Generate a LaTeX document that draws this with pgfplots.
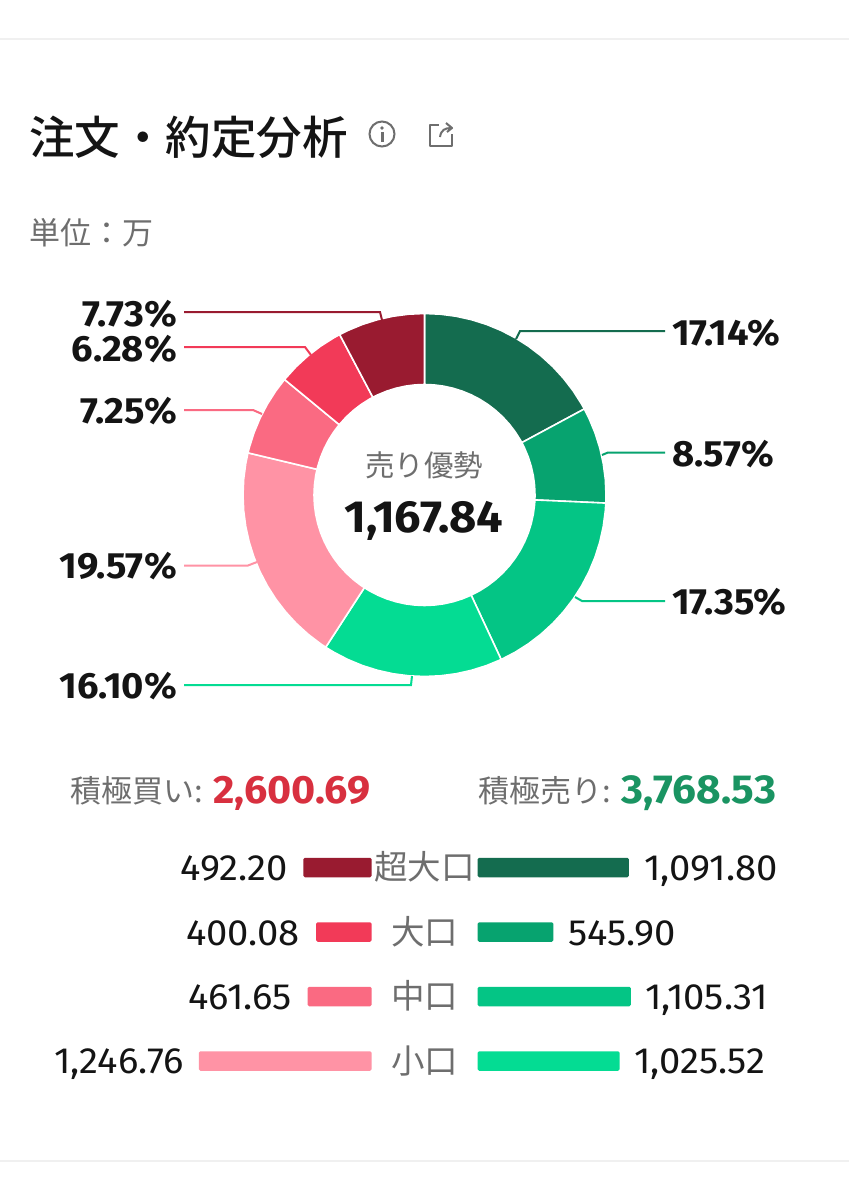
\documentclass[border=0pt]{standalone}
\usepackage{fontspec}
\usepackage{pgfplots}
\pgfplotsset{compat=1.18}
\usepgfplotslibrary{polar}
\setmainfont{Noto Sans CJK JP}[BoldFont={Noto Sans CJK JP Bold}]
\newfontfamily\med{Noto Sans CJK JP Medium}
\newfontfamily\num{Fira Sans}[Numbers={Lining,Proportional},FakeStretch=1.045]
\definecolor{g1}{HTML}{146C4F}
\definecolor{g2}{HTML}{07A36F}
\definecolor{g3}{HTML}{04C585}
\definecolor{g4}{HTML}{04DC93}
\definecolor{r1}{HTML}{991B30}
\definecolor{r2}{HTML}{F23A58}
\definecolor{r3}{HTML}{FA6A82}
\definecolor{r4}{HTML}{FF93A5}
\definecolor{tred}{HTML}{D8303F}
\definecolor{tgreen}{HTML}{1A9462}
\definecolor{ink}{HTML}{141414}
\definecolor{gry}{HTML}{6E6E6E}
\newcommand{\fs}[1]{\fontsize{#1}{#1}\selectfont}
\begin{document}
\begin{tikzpicture}[x=1pt,y=1pt]
\path[use as bounding box,fill=white] (0pt,0pt) rectangle (849pt,1200pt);
% donut
\begin{polaraxis}[at={(424.5pt,705pt)},anchor=center,scale only axis,width=362pt,height=362pt,
 hide axis,xmin=-270,xmax=90,ymin=0,ymax=181,clip=false]
\addplot[fill=g1,draw=white,line width=1.6pt] coordinates {(90,181.5)(85,181.5)(80,181.5)(75,181.5)(70,181.5)(65,181.5)(60,181.5)(55,181.5)(50,181.5)(45,181.5)(40,181.5)(35,181.5)(30,181.5)(28.296,181.5)(28.296,110.5)(30,110.5)(35,110.5)(40,110.5)(45,110.5)(50,110.5)(55,110.5)(60,110.5)(65,110.5)(70,110.5)(75,110.5)(80,110.5)(85,110.5)(90,110.5)} --cycle;
\addplot[fill=g2,draw=white,line width=1.6pt] coordinates {(28.296,181.5)(25,181.5)(20,181.5)(15,181.5)(10,181.5)(5,181.5)(0,181.5)(-2.556,181.5)(-2.556,110.5)(0,110.5)(5,110.5)(10,110.5)(15,110.5)(20,110.5)(25,110.5)(28.296,110.5)} --cycle;
\addplot[fill=g3,draw=white,line width=1.6pt] coordinates {(-2.556,181.5)(-5,181.5)(-10,181.5)(-15,181.5)(-20,181.5)(-25,181.5)(-30,181.5)(-35,181.5)(-40,181.5)(-45,181.5)(-50,181.5)(-55,181.5)(-60,181.5)(-65.016,181.5)(-65.016,110.5)(-60,110.5)(-55,110.5)(-50,110.5)(-45,110.5)(-40,110.5)(-35,110.5)(-30,110.5)(-25,110.5)(-20,110.5)(-15,110.5)(-10,110.5)(-5,110.5)(-2.556,110.5)} --cycle;
\addplot[fill=g4,draw=white,line width=1.6pt] coordinates {(-65.016,181.5)(-70,181.5)(-75,181.5)(-80,181.5)(-85,181.5)(-90,181.5)(-95,181.5)(-100,181.5)(-105,181.5)(-110,181.5)(-115,181.5)(-120,181.5)(-122.976,181.5)(-122.976,110.5)(-120,110.5)(-115,110.5)(-110,110.5)(-105,110.5)(-100,110.5)(-95,110.5)(-90,110.5)(-85,110.5)(-80,110.5)(-75,110.5)(-70,110.5)(-65.016,110.5)} --cycle;
\addplot[fill=r4,draw=white,line width=1.6pt] coordinates {(-122.976,181.5)(-125,181.5)(-130,181.5)(-135,181.5)(-140,181.5)(-145,181.5)(-150,181.5)(-155,181.5)(-160,181.5)(-165,181.5)(-170,181.5)(-175,181.5)(-180,181.5)(-185,181.5)(-190,181.5)(-193.428,181.5)(-193.428,110.5)(-190,110.5)(-185,110.5)(-180,110.5)(-175,110.5)(-170,110.5)(-165,110.5)(-160,110.5)(-155,110.5)(-150,110.5)(-145,110.5)(-140,110.5)(-135,110.5)(-130,110.5)(-125,110.5)(-122.976,110.5)} --cycle;
\addplot[fill=r3,draw=white,line width=1.6pt] coordinates {(-193.428,181.5)(-195,181.5)(-200,181.5)(-205,181.5)(-210,181.5)(-215,181.5)(-219.528,181.5)(-219.528,110.5)(-215,110.5)(-210,110.5)(-205,110.5)(-200,110.5)(-195,110.5)(-193.428,110.5)} --cycle;
\addplot[fill=r2,draw=white,line width=1.6pt] coordinates {(-219.528,181.5)(-225,181.5)(-230,181.5)(-235,181.5)(-240,181.5)(-242.136,181.5)(-242.136,110.5)(-240,110.5)(-235,110.5)(-230,110.5)(-225,110.5)(-219.528,110.5)} --cycle;
\addplot[fill=r1,draw=white,line width=1.6pt] coordinates {(-242.136,181.5)(-245,181.5)(-250,181.5)(-255,181.5)(-260,181.5)(-265,181.5)(-270,181.5)(-270,110.5)(-265,110.5)(-260,110.5)(-255,110.5)(-250,110.5)(-245,110.5)(-242.136,110.5)} --cycle;
\end{polaraxis}
% left bars
\begin{axis}[at={(371.5pt,139pt)},anchor=south east,scale only axis,width=173.1pt,height=193.5pt,
 hide axis,xmin=0,xmax=1250,x dir=reverse,ymin=0,ymax=3,y dir=reverse,clip=false,xbar,bar width=19.5pt,bar shift=0pt]
\addplot[fill=r1,draw=none,rounded corners=1.5pt] coordinates {(492.20,0)};
\addplot[fill=r2,draw=none,rounded corners=1.5pt] coordinates {(400.08,1)};
\addplot[fill=r3,draw=none,rounded corners=1.5pt] coordinates {(461.65,2)};
\addplot[fill=r4,draw=none,rounded corners=1.5pt] coordinates {(1246.76,3)};
\end{axis}
% right bars
\begin{axis}[at={(477.7pt,139pt)},anchor=south west,scale only axis,width=173.1pt,height=193.5pt,
 hide axis,xmin=0,xmax=1250,ymin=0,ymax=3,y dir=reverse,clip=false,xbar,bar width=19.5pt,bar shift=0pt]
\addplot[fill=g1,draw=none,rounded corners=1.5pt] coordinates {(1091.80,0)};
\addplot[fill=g2,draw=none,rounded corners=1.5pt] coordinates {(545.90,1)};
\addplot[fill=g3,draw=none,rounded corners=1.5pt] coordinates {(1105.31,2)};
\addplot[fill=g4,draw=none,rounded corners=1.5pt] coordinates {(1025.52,3)};
\end{axis}
% page layer in pixel coordinates
\begin{axis}[at={(0pt,0pt)},anchor=south west,scale only axis,width=849pt,height=1200pt,
 hide axis,xmin=0,xmax=849,ymin=0,ymax=1200,y dir=reverse,clip=false]
% rules
\addplot[color=black!6,line width=1.2pt] coordinates {(0,39)(849,39)};
\addplot[color=black!6,line width=1.2pt] coordinates {(0,1161)(849,1161)};
% leaders
\addplot[color=r1,line width=2pt] coordinates {(184,312)(380,312)(382,320)};
\addplot[color=r2,line width=2pt] coordinates {(184,347)(305,347)(311,355)};
\addplot[color=r3,line width=2pt] coordinates {(184,410)(253,410)(262,414)};
\addplot[color=r4,line width=2pt] coordinates {(184,565.5)(248,565.5)(257,562)};
\addplot[color=g4,line width=2pt] coordinates {(184,685)(411,685)(412,676)};
\addplot[color=g1,line width=2pt] coordinates {(665,331)(520,331)(516,339)};
\addplot[color=g2,line width=2pt] coordinates {(665,452.5)(608,452.5)(602,455)};
\addplot[color=g3,line width=2pt] coordinates {(665,601)(582,601)(575,597)};
% title
\node[anchor=base west,text=ink,inner sep=0pt] at (axis cs:29,154) {\fs{45.5}\med 注文・約定分析};
\node[anchor=base west,text=gry,inner sep=0pt] at (axis cs:29,244) {\fs{31}単位\char"FF1A 万};
% icons
\draw[gry,line width=2pt] (axis cs:382,134) circle[radius=12.5pt];
\fill[gry] (axis cs:380.5,132) rectangle (axis cs:383.5,142);
\fill[gry] (axis cs:382,128) circle[radius=1.9pt];
\draw[gry,line width=2pt,line join=round] (axis cs:452,134) -- (axis cs:452,146) -- (axis cs:430,146) -- (axis cs:430,124.5) -- (axis cs:439,124.5);
\draw[gry,line width=2pt,line join=round] (axis cs:440,137) .. controls (axis cs:441,130) and (axis cs:445,128) .. (axis cs:451,128) (axis cs:446,123) -- (axis cs:452,128) -- (axis cs:447,132);
% percent labels
\node[anchor=base east,text=ink,inner sep=0pt] at (axis cs:177,326) {\fs{36.5}\num\bfseries 7.73\%};
\node[anchor=base east,text=ink,inner sep=0pt] at (axis cs:177,361) {\fs{36.5}\num\bfseries 6.28\%};
\node[anchor=base east,text=ink,inner sep=0pt] at (axis cs:177,423) {\fs{36.5}\num\bfseries 7.25\%};
\node[anchor=base east,text=ink,inner sep=0pt] at (axis cs:177,578) {\fs{36.5}\num\bfseries 19.57\%};
\node[anchor=base east,text=ink,inner sep=0pt] at (axis cs:177,698) {\fs{36.5}\num\bfseries 16.10\%};
\node[anchor=base west,text=ink,inner sep=0pt] at (axis cs:672,345) {\fs{36.5}\num\bfseries 17.14\%};
\node[anchor=base west,text=ink,inner sep=0pt] at (axis cs:672,466) {\fs{36.5}\num\bfseries 8.57\%};
\node[anchor=base west,text=ink,inner sep=0pt] at (axis cs:672,614) {\fs{36.5}\num\bfseries 17.35\%};
% centre
\node[anchor=base,text=gry,inner sep=0pt] at (axis cs:424,476) {\fs{29.5}売り優勢};
\node[anchor=base,text=ink,inner sep=0pt] at (axis cs:424,532) {\fs{45}\num\bfseries 1,167.84};
% totals
\node[anchor=base west,text=gry,inner sep=0pt] at (axis cs:70,802) {\fs{31}積極買い:};
\node[anchor=base west,text=tred,inner sep=0pt] at (axis cs:213,803) {\fs{39.5}\num\bfseries 2,600.69};
\node[anchor=base west,text=gry,inner sep=0pt] at (axis cs:478,802) {\fs{31}積極売り:};
\node[anchor=base west,text=tgreen,inner sep=0pt] at (axis cs:621.5,803) {\fs{40.5}\num\bfseries 3,768.53};
% rows
\node[anchor=base,text=gry,inner sep=0pt] at (axis cs:424.5,879) {\fs{33.5}超大口};
\node[anchor=base,text=gry,inner sep=0pt] at (axis cs:424.5,944) {\fs{33.5}大口};
\node[anchor=base,text=gry,inner sep=0pt] at (axis cs:424.5,1008) {\fs{33.5}中口};
\node[anchor=base,text=gry,inner sep=0pt] at (axis cs:424.5,1073) {\fs{33.5}小口};
\node[anchor=base east,text=ink,inner sep=0pt] at (axis cs:288,880) {\fs{36.5}\num 492.20};
\node[anchor=base east,text=ink,inner sep=0pt] at (axis cs:300,945) {\fs{36.5}\num 400.08};
\node[anchor=base east,text=ink,inner sep=0pt] at (axis cs:292,1009) {\fs{36.5}\num 461.65};
\node[anchor=base east,text=ink,inner sep=0pt] at (axis cs:184,1073) {\fs{36.5}\num 1,246.76};
\node[anchor=base west,text=ink,inner sep=0pt] at (axis cs:644,880) {\fs{36.5}\num 1,091.80};
\node[anchor=base west,text=ink,inner sep=0pt] at (axis cs:568,945) {\fs{36.5}\num 545.90};
\node[anchor=base west,text=ink,inner sep=0pt] at (axis cs:645,1009) {\fs{36.5}\num 1,105.31};
\node[anchor=base west,text=ink,inner sep=0pt] at (axis cs:634,1073) {\fs{36.5}\num 1,025.52};
\end{axis}
\end{tikzpicture}
\end{document}
